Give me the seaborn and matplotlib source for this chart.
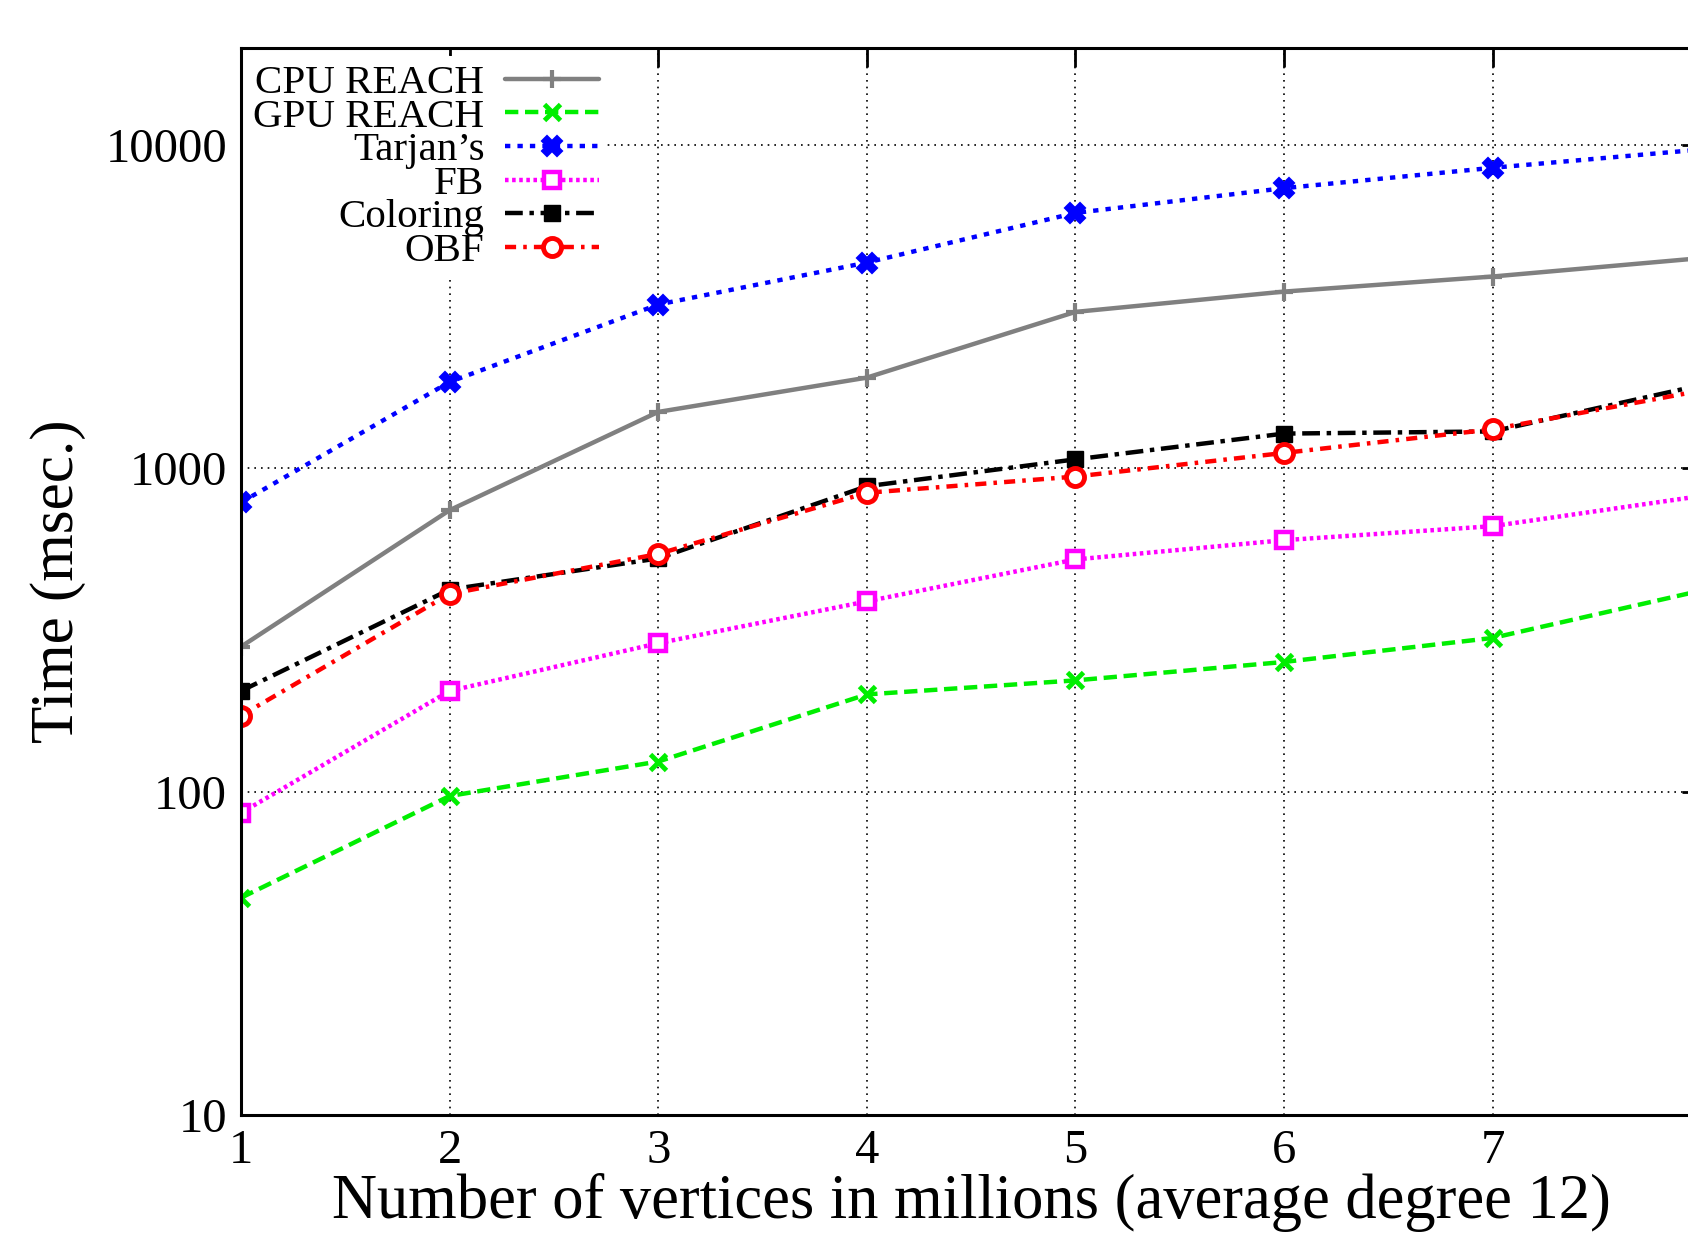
import numpy as np
import pandas as pd
import seaborn as sns
import matplotlib
matplotlib.use("Agg")
import matplotlib.pyplot as plt
from matplotlib.ticker import FixedLocator, NullFormatter

sns.set_style("white")
plt.rcParams['font.family'] = ['Liberation Serif', 'DejaVu Serif']
plt.rcParams['mathtext.fontset'] = 'dejavuserif'
plt.rcParams['text.color'] = 'black'
plt.rcParams['axes.labelcolor'] = 'black'
plt.rcParams['xtick.color'] = 'black'
plt.rcParams['ytick.color'] = 'black'

# vertices in millions
vertices = [1, 2, 3, 4, 5, 6, 7, 8]
tick_labels = ["1", "2", "3", "4", "5", "6", "7"]

# running time in msec
cpu_reach = [281, 743, 1496, 1910, 3050, 3525, 3925, 4475]
gpu_reach = [47, 97, 124, 200, 221, 252, 299, 419]
tarjans = [785, 1852, 3215, 4335, 6175, 7365, 8515, 9700]
fb = [86, 205, 288, 388, 523, 600, 663, 822]
coloring = [205, 422, 527, 881, 1067, 1282, 1302, 1812]
obf = [172, 409, 544, 841, 944, 1117, 1322, 1741]

series = [
    ("CPU REACH", cpu_reach, dict(color="#808080", linestyle="-", marker="+",
                                  markersize=13, markeredgewidth=3)),
    ("GPU REACH", gpu_reach, dict(color="#00ee00", linestyle=(0, (3, 1.5)), marker="x",
                                  markersize=11, markeredgewidth=3.5)),
    ("Tarjan\u2019s", tarjans, dict(color="#0000ff", linestyle=(0, (1.2, 1.6)), marker="X",
                                   markersize=14, markeredgewidth=1.5)),
    ("FB", fb, dict(color="#ff00ff", linestyle=(0, (0.8, 0.8)), marker="s",
                    markersize=12, markerfacecolor="white", markeredgewidth=3.2)),
    ("Coloring", coloring, dict(color="black", linestyle=(0, (4, 1.5, 1, 1.5)), marker="s",
                                markersize=12, markeredgewidth=1)),
    ("OBF", obf, dict(color="#ff0000", linestyle=(0, (2.5, 1.6, 0.8, 1.6)), marker="o",
                      markersize=13, markerfacecolor="white", markeredgewidth=3.5)),
]

fig = plt.figure(figsize=(16.88, 12.35), dpi=100)
# axes reach past the right edge of the page, as in the original
ax = fig.add_axes([0.1428, 0.0972, 0.865, 0.864])

for name, vals, style in series:
    sns.lineplot(x=vertices, y=vals, ax=ax, label=name, linewidth=3.2,
                 markeredgecolor=style["color"], errorbar=None, sort=False,
                 legend=False, **style)

ax.set_yscale("log")
ax.set_xlim(1, 8)
ax.set_ylim(10, 20000)
ax.xaxis.set_major_locator(FixedLocator(vertices))
ax.set_xticklabels(tick_labels + [""])
ax.yaxis.set_major_locator(FixedLocator([10, 100, 1000, 10000]))
ax.set_yticklabels(["10", "100", "1000", "10000"])
ax.yaxis.set_minor_formatter(NullFormatter())

ax.grid(True, which="major", color="black", linestyle=(0, (1, 3)), linewidth=1.2)
ax.tick_params(axis="both", which="major", direction="in", length=14, width=2,
               labelsize=35, top=True, right=True, pad=10)
ax.tick_params(axis="y", which="minor", direction="in", length=8, width=1.5, right=True)
for sp in ax.spines.values():
    sp.set_linewidth(2.2)
    sp.set_color("black")

ax.set_xlabel("Number of vertices in millions (average degree 12)", fontsize=45, labelpad=0)
ax.set_ylabel("Time (msec.)", fontsize=44, labelpad=14)

handles = ax.get_lines()[:len(series)]
leg = ax.legend(handles, [s[0] for s in series], loc="upper left",
                bbox_to_anchor=(0.0, 0.996), markerfirst=False,
                fontsize=29.5, frameon=True, facecolor="white", edgecolor="none",
                framealpha=1, handlelength=2.3, handletextpad=0.5,
                labelspacing=-0.1, borderpad=0.2, borderaxespad=0.1)

fig.savefig("out.png", dpi=100)
